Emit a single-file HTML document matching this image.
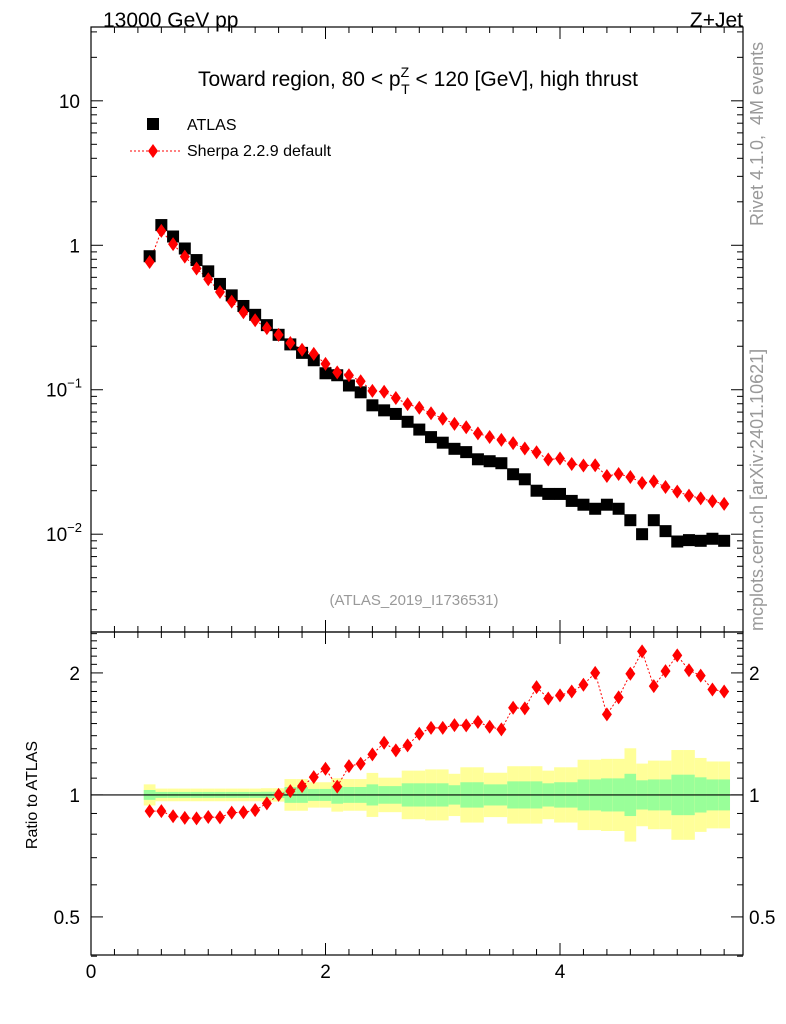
<!DOCTYPE html>
<html><head><meta charset="utf-8"><style>
body{margin:0;background:#fff;}
svg{display:block;font-family:"Liberation Sans",sans-serif;}
</style></head><body>
<svg id="chart" width="786" height="1024" viewBox="0 0 786 1024">
<text x="103" y="27" font-size="21">13000 GeV pp</text>
<text x="743" y="27" font-size="21" text-anchor="end">Z+Jet</text>
<text x="418" y="86" font-size="21" text-anchor="middle">Toward region, 80 &lt; p<tspan font-size="14" dy="-9">Z</tspan><tspan font-size="14" dx="-8" dy="17">T</tspan><tspan dy="-8"> &lt; 120 [GeV], high thrust</tspan></text>
<g>
<rect x="147" y="118" width="12" height="12" fill="#000"/>
<text x="187" y="130" font-size="16">ATLAS</text>
<line x1="130" y1="151" x2="180" y2="151" stroke="red" stroke-dasharray="2,2"/>
<polygon points="153,144 158,151 153,158 148,151" fill="red"/>
<text x="187" y="156" font-size="16">Sherpa 2.2.9 default</text>
</g>
<text x="414" y="605" font-size="15" fill="#999" text-anchor="middle">(ATLAS_2019_I1736531)</text>
<text transform="translate(763,226) rotate(-90)" font-size="18" fill="#999" xml:space="preserve">Rivet 4.1.0,  4M events</text>
<text transform="translate(763,631) rotate(-90)" font-size="18" fill="#999">mcplots.cern.ch [arXiv:2401.10621]</text>
<text transform="translate(37,795) rotate(-90)" font-size="16" text-anchor="middle">Ratio to ATLAS</text>
<g id="g-top"></g>
<g id="g-bot"></g>
</svg>
<script>
const xVals = [0.5,0.6,0.7,0.8,0.9,1.0,1.1,1.2,1.3,1.4,1.5,1.6,1.7,1.8,1.9,2.0,2.1,2.2,2.3,2.4,2.5,2.6,2.7,2.8,2.9,3.0,3.1,3.2,3.3,3.4,3.5,3.6,3.7,3.8,3.9,4.0,4.1,4.2,4.3,4.4,4.5,4.6,4.7,4.8,4.9,5.0,5.1,5.2,5.3,5.4];
const atlasVals = [0.84,1.38,1.15,0.95,0.79,0.66,0.54,0.45,0.38,0.33,0.28,0.24,0.206,0.18,0.16,0.13,0.126,0.107,0.096,0.078,0.072,0.068,0.06,0.053,0.047,0.043,0.039,0.037,0.033,0.032,0.031,0.026,0.024,0.02,0.019,0.019,0.017,0.016,0.015,0.016,0.015,0.0125,0.01,0.0125,0.0105,0.0089,0.0091,0.009,0.0093,0.009];
const sherpaVals = [0.766,1.259,1.019,0.834,0.691,0.582,0.475,0.407,0.344,0.303,0.267,0.24,0.2105,0.189,0.177,0.151,0.132,0.126,0.1146,0.0982,0.0968,0.0876,0.0795,0.075,0.0688,0.063,0.058,0.055,0.0499,0.0471,0.045,0.0427,0.0392,0.0369,0.0329,0.0334,0.0306,0.0299,0.03,0.0253,0.0261,0.0249,0.0226,0.0232,0.0212,0.0197,0.0185,0.0177,0.0169,0.0162];
const ratioVals = [0.912,0.912,0.886,0.878,0.875,0.882,0.88,0.904,0.906,0.917,0.953,1.0,1.022,1.051,1.106,1.16,1.048,1.178,1.194,1.259,1.345,1.288,1.325,1.416,1.464,1.464,1.487,1.485,1.513,1.473,1.451,1.641,1.635,1.845,1.73,1.76,1.80,1.87,2.0,1.58,1.74,1.99,2.26,1.855,2.02,2.21,2.03,1.97,1.82,1.80];
const totErr = [0.06,0.036,0.036,0.036,0.036,0.036,0.036,0.036,0.036,0.036,0.038,0.038,0.09,0.09,0.072,0.072,0.095,0.09,0.09,0.125,0.098,0.098,0.138,0.138,0.145,0.145,0.12,0.157,0.157,0.126,0.126,0.163,0.163,0.163,0.138,0.157,0.157,0.2,0.2,0.205,0.205,0.265,0.178,0.195,0.195,0.255,0.255,0.21,0.19,0.19];
const statErr = [0.028,0.017,0.017,0.017,0.017,0.017,0.017,0.017,0.017,0.017,0.018,0.018,0.045,0.045,0.034,0.034,0.05,0.045,0.045,0.06,0.05,0.05,0.066,0.066,0.066,0.066,0.055,0.072,0.072,0.06,0.06,0.077,0.077,0.077,0.066,0.072,0.072,0.088,0.088,0.094,0.094,0.12,0.083,0.088,0.088,0.115,0.115,0.1,0.088,0.088];
const xTicks = [0,2,4];
const topTicks = [{v:0.01,l:"10",e:"−2"},{v:0.1,l:"10",e:"−1"},{v:1,l:"1"},{v:10,l:"10"}];
const ratioTicks = [0.5,1,2];

const NS="http://www.w3.org/2000/svg";
const X0=91,X1=743,TY0=27,TY1=632,BY0=632,BY1=955;
const xmax=(X1-X0)/117.25;
const sx=v=>X0+v/xmax*(X1-X0);
const tmin=-2.677,tmax=1.511;
const sy=v=>TY1-(Math.log10(v)-tmin)/(tmax-tmin)*(TY1-TY0);
const rmin=-0.395,rmax=0.402;
const sr=v=>BY1-(Math.log10(v)-rmin)/(rmax-rmin)*(BY1-BY0);
function mk(tag,attrs,parent){const e=document.createElementNS(NS,tag);for(const k in attrs)e.setAttribute(k,attrs[k]);parent.appendChild(e);return e;}
const gt=document.getElementById('g-top'),gb=document.getElementById('g-bot');

for(let i=0;i<xVals.length;i++){
  const xa=sx(xVals[i]-0.05),xb=sx(xVals[i]+0.05);
  let r=mk('rect',{x:xa,y:sr(Math.exp(totErr[i])),width:xb-xa,height:sr(Math.exp(-totErr[i]))-sr(Math.exp(totErr[i])),fill:'#ffff99'},gb);
  
  
  let g=mk('rect',{x:xa,y:sr(Math.exp(statErr[i])),width:xb-xa,height:sr(Math.exp(-statErr[i]))-sr(Math.exp(statErr[i])),fill:'#99ff99'},gb);
  
  
}
let ref=mk('line',{x1:X0,x2:X1,y1:sr(1),y2:sr(1),stroke:'#000','stroke-width':1.2},gb);



for(const [g,y0,y1] of [[gt,TY0,TY1],[gb,BY0,BY1]]){
  let f=mk('rect',{x:X0,y:y0,width:X1-X0,height:y1-y0,fill:'none',stroke:'#000','stroke-width':1.2},g);
  
  
  for(let v=0;v<=xmax;v+=0.2){
    const major=Math.abs(v/2-Math.round(v/2))<1e-6, len=major?12:6;
    mk('line',{x1:sx(v),x2:sx(v),y1:y1,y2:y1-len,stroke:'#000'},g);
    mk('line',{x1:sx(v),x2:sx(v),y1:y0,y2:y0+len,stroke:'#000'},g);
  }
}
xTicks.forEach(v=>{
  const t=mk('text',{x:sx(v),y:978,'font-size':19,'text-anchor':'middle'},gb);t.textContent=v;
  
  
});
for(let d=-3;d<=1;d++)for(let m=1;m<=9;m++){
  const v=m*Math.pow(10,d);if(Math.log10(v)<tmin||Math.log10(v)>tmax)continue;
  const len=m==1?12:6,y=sy(v);
  mk('line',{x1:X0,x2:X0+len,y1:y,y2:y,stroke:'#000'},gt);
  mk('line',{x1:X1,x2:X1-len,y1:y,y2:y,stroke:'#000'},gt);
}
topTicks.forEach(tk=>{
  const t=mk('text',{x:tk.e?72:80,y:sy(tk.v)+7,'font-size':19,'text-anchor':'end'},gt);
  t.textContent=tk.l;
  if(tk.e){const s=mk('tspan',{'font-size':13,dy:-9},t);s.textContent=tk.e;t.setAttribute('x',82);}
  
  
});
for(let v=0.4;v<=2.55;v+=0.1){
  const major=ratioTicks.some(r=>Math.abs(r-v)<1e-6),len=major?12:6,y=sr(v);
  mk('line',{x1:X0,x2:X0+len,y1:y,y2:y,stroke:'#000'},gb);
  mk('line',{x1:X1,x2:X1-len,y1:y,y2:y,stroke:'#000'},gb);
}
ratioTicks.forEach(v=>{
  const t=mk('text',{x:80,y:sr(v)+7,'font-size':19,'text-anchor':'end'},gb);t.textContent=v;
  
  
  const t2=mk('text',{x:749,y:sr(v)+7,'font-size':19},gb);t2.textContent=v;
  
  
});

let pl=mk('polyline',{points:xVals.map((x,i)=>sx(x)+','+sy(sherpaVals[i])).join(' '),fill:'none',stroke:'red','stroke-dasharray':'2,2'},gt);


let pr=mk('polyline',{points:xVals.map((x,i)=>sx(x)+','+sr(ratioVals[i])).join(' '),fill:'none',stroke:'red','stroke-dasharray':'2,2'},gb);


xVals.forEach((x,i)=>{
  const r=mk('rect',{x:sx(x)-6,y:sy(atlasVals[i])-6,width:12,height:12,fill:'#000'},gt);
  
  
});
function diamond(cx,cy,g,name){
  const p=mk('polygon',{points:`${cx},${cy-7} ${cx+5},${cy} ${cx},${cy+7} ${cx-5},${cy}`,fill:'red'},g);
  
  
}
xVals.forEach((x,i)=>{diamond(sx(x),sy(sherpaVals[i]),gt,'sherpa-point');diamond(sx(x),sr(ratioVals[i]),gb,'ratio-point');});
</script>
</body></html>
